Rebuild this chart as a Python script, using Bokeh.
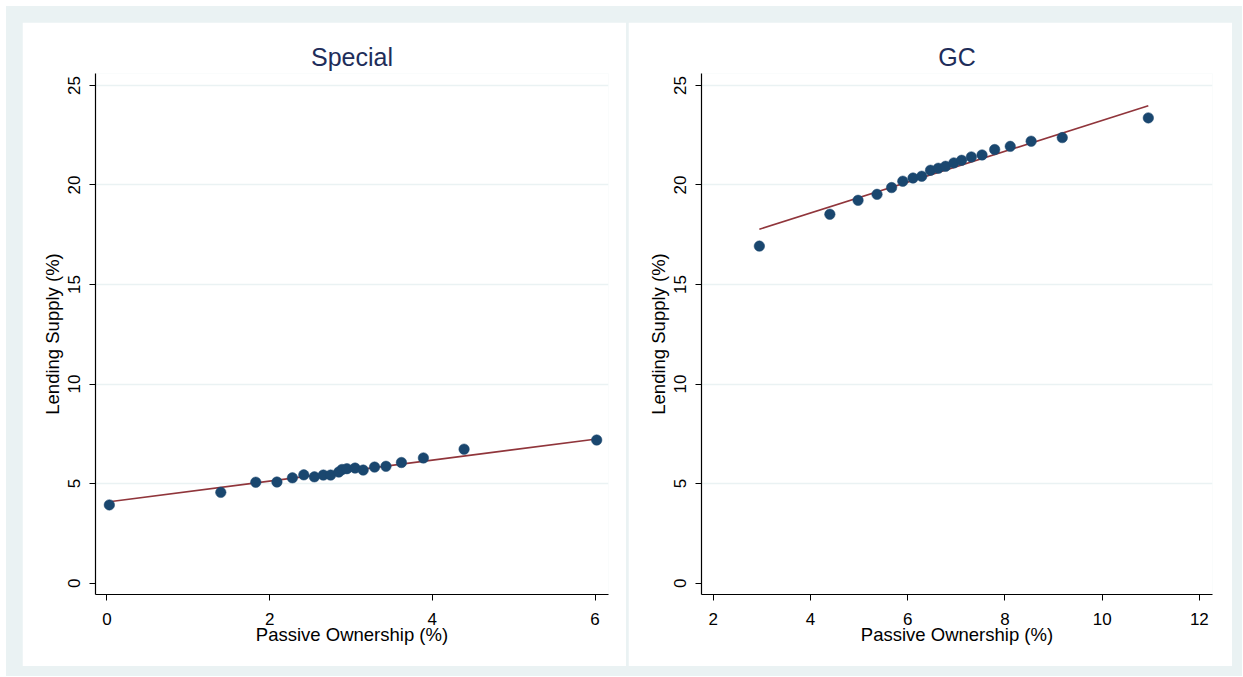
import numpy as np
from bokeh.plotting import figure
from bokeh.layouts import row
from bokeh.models import Range1d, FixedTicker, ColumnDataSource
from bokeh.embed import file_html
from bokeh.resources import INLINE

# ---------------- data ----------------
panel_titles = ["Special", "GC"]
x_label = "Passive Ownership (%)"
y_label = "Lending Supply (%)"

special_x = [0.03, 1.40, 1.83, 2.09, 2.28, 2.42, 2.55, 2.66, 2.75, 2.85,
             2.89, 2.95, 3.05, 3.15, 3.29, 3.43, 3.62, 3.89, 4.39, 6.02]
special_y = [3.93, 4.56, 5.07, 5.08, 5.29, 5.44, 5.34, 5.43, 5.43, 5.58,
             5.71, 5.75, 5.78, 5.68, 5.83, 5.87, 6.06, 6.29, 6.73, 7.19]
special_fit = [4.07, 0.527]   # intercept, slope

gc_x = [2.95, 4.40, 4.98, 5.37, 5.67, 5.90, 6.11, 6.29, 6.47, 6.63,
        6.78, 6.95, 7.11, 7.31, 7.53, 7.79, 8.11, 8.54, 9.18, 10.95]
gc_y = [16.93, 18.53, 19.23, 19.53, 19.87, 20.19, 20.35, 20.44, 20.74, 20.84,
        20.94, 21.11, 21.24, 21.41, 21.51, 21.78, 21.94, 22.20, 22.38, 23.37]
gc_fit = [15.49, 0.775]

special_xticks = [0, 2, 4, 6]
gc_xticks = [2, 4, 6, 8, 10, 12]
y_ticks = [0, 5, 10, 15, 20, 25]
y_grid = [5, 10, 15, 20, 25]

# ---------------- style ----------------
FONT = "Liberation Sans"
BG = "#eaf2f3"
MARKER = "#1a476f"
FITC = "#90353b"
TITLEC = "#1e2d5a"


def make_panel(title, xs, ys, fit, xr, xticks, bl, br):
    p = figure(width=604, height=644, output_backend="svg", toolbar_location=None,
               x_range=Range1d(*xr), y_range=Range1d(-0.57, 25.6),
               min_border_left=bl, min_border_right=br,
               min_border_top=51, min_border_bottom=72,
               background_fill_color="white", border_fill_color="white")
    p.outline_line_color = None
    p.title.text = title
    p.title.align = "center"
    p.title.text_font = FONT
    p.title.text_font_size = "25px"
    p.title.text_font_style = "normal"
    p.title.text_color = TITLEC
    p.title.text_line_height = 1.0
    p.title.standoff = 5

    for ax in (p.xaxis[0], p.yaxis[0]):
        ax.axis_line_color = "black"
        ax.axis_line_width = 1.2
        ax.major_tick_line_color = "black"
        ax.major_tick_out = 6
        ax.major_tick_in = 0
        ax.minor_tick_line_color = None
        ax.major_label_text_font = FONT
        ax.major_label_text_font_size = "17px"
        ax.major_label_text_color = "black"
        ax.axis_label_text_font = FONT
        ax.axis_label_text_font_size = "18.5px"
        ax.axis_label_text_font_style = "normal"
        ax.axis_label_text_color = "black"

    p.xaxis.ticker = FixedTicker(ticks=xticks)
    p.yaxis.ticker = FixedTicker(ticks=y_ticks)
    p.yaxis.major_label_orientation = "vertical"
    p.xaxis.axis_label = x_label
    p.yaxis.axis_label = y_label
    p.xaxis.major_label_standoff = 12
    p.yaxis.major_label_standoff = 9
    p.xaxis.axis_label_standoff = -4
    p.yaxis.axis_label_standoff = 3

    p.xgrid.grid_line_color = None
    p.ygrid.ticker = FixedTicker(ticks=y_grid)
    p.ygrid.grid_line_color = BG
    p.ygrid.grid_line_width = 1.5

    src = ColumnDataSource(dict(x=xs, y=ys))
    x0, x1 = min(xs), max(xs)
    a, b = fit
    p.line([x0, x1], [a + b * x0, a + b * x1], line_color=FITC, line_width=1.6)
    p.scatter("x", "y", source=src, size=10.5, fill_color=MARKER,
              line_color=MARKER, line_width=0.5)
    return p


p1 = make_panel(panel_titles[0], special_x, special_y, special_fit,
                (-0.14, 6.165), special_xticks, 73, 18)
p2 = make_panel(panel_titles[1], gc_x, gc_y, gc_fit,
                (1.76, 12.27), gc_xticks, 73, 20)

layout = row(p1, p2, spacing=2,
             styles={"background-color": BG, "padding": "16px 10px 10px 16px",
                     "margin-left": "6px", "margin-top": "6px"})

open("out.html", "w").write(file_html(layout, INLINE))
